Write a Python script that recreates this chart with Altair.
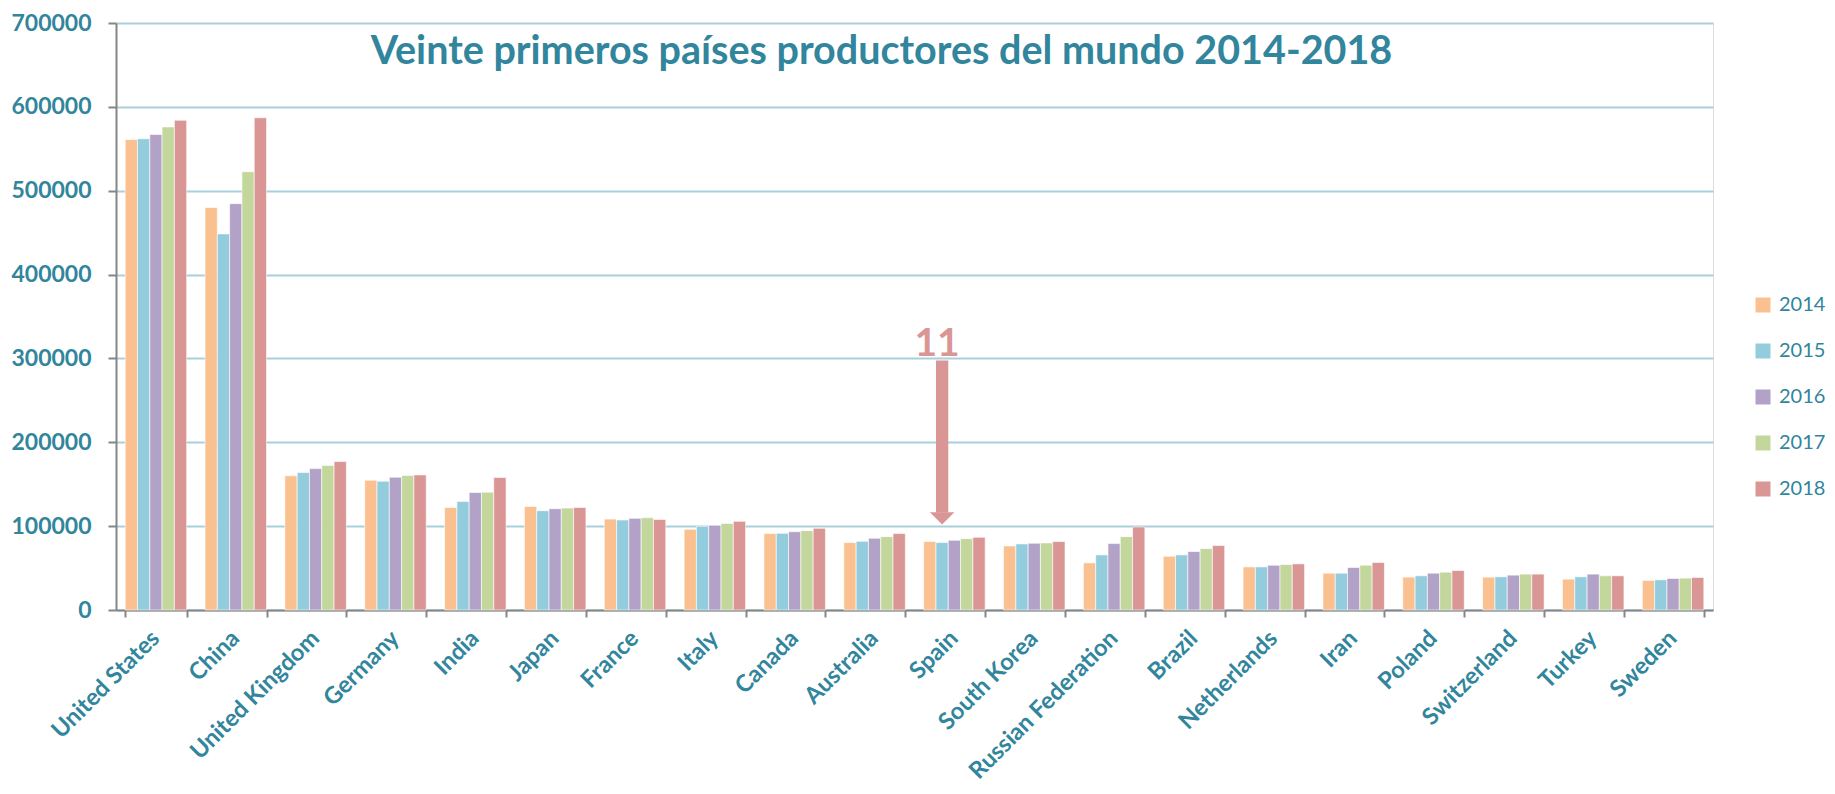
import altair as alt
import pandas as pd

countries = ["United States", "China", "United Kingdom", "Germany", "India", "Japan",
             "France", "Italy", "Canada", "Australia", "Spain", "South Korea",
             "Russian Federation", "Brazil", "Netherlands", "Iran", "Poland",
             "Switzerland", "Turkey", "Sweden"]
years = ["2014", "2015", "2016", "2017", "2018"]

v2014 = [561000, 480000, 160000, 154800, 122300, 123500, 108400, 96200, 91100, 80400,
         81600, 76400, 56200, 64100, 51400, 43900, 39200, 39200, 36800, 35200]
v2015 = [562000, 448500, 163900, 153600, 129500, 118400, 107300, 99800, 91400, 81900,
         80400, 78800, 65700, 65700, 51400, 43900, 40800, 39600, 39600, 36000]
v2016 = [567000, 484600, 168600, 158400, 140100, 120800, 109300, 101000, 93400, 85500,
         83100, 79600, 79200, 69700, 53400, 50700, 43900, 41600, 42800, 37600]
v2017 = [576000, 522600, 172200, 160300, 140500, 121500, 110000, 103300, 94600, 87500,
         85100, 80000, 87500, 73200, 54200, 53400, 45100, 42800, 40800, 38000]
v2018 = [584000, 587000, 177000, 161100, 158000, 122300, 108000, 105700, 97400, 91100,
         86700, 81600, 99000, 76800, 55000, 56600, 47100, 42800, 40800, 38800]

colors = ["#FAC08F", "#93CDDD", "#B3A2C7", "#C3D69B", "#D99694"]
title_text = "Veinte primeros países productores del mundo 2014-2018"

# annotation values
ann_country = "Spain"
ann_year = "2015"
ann_label = "11"
ann_label_y = 303000
shaft_top = 297600
shaft_bottom = 116400
head_y = 109300

TEAL = "#31859C"
GRAY = "#868686"
FONT = "Lato"

rows = []
for yr, vals in zip(years, [v2014, v2015, v2016, v2017, v2018]):
    for c, v in zip(countries, vals):
        rows.append({"country": c, "year": yr, "value": v})
df = pd.DataFrame(rows)

ann = pd.DataFrame([{"country": ann_country, "year": ann_year, "label": ann_label,
                     "ly": ann_label_y, "s1": shaft_bottom, "s2": shaft_top, "hy": head_y}])

x_enc = alt.X("country:N", sort=countries, title=None,
              scale=alt.Scale(paddingInner=0.23, paddingOuter=0.115),
              axis=alt.Axis(labelAngle=-45, labelAlign="right", labelBaseline="top",
                            labelFont=FONT, labelFontSize=23.5, labelFontWeight="bold",
                            labelColor=TEAL, labelPadding=9, labelOffset=-9,
                            labelLimit=0, tickBand="extent",
                            tickSize=7, tickColor=GRAY, tickWidth=2,
                            domainColor=GRAY, domainWidth=2, grid=False,
                            labelOverlap=False))
xo_enc = alt.XOffset("year:N", sort=years)

bars = alt.Chart(df).mark_bar(stroke="white", strokeWidth=1, strokeOpacity=0.6).encode(
    x=x_enc,
    xOffset=xo_enc,
    y=alt.Y("value:Q", title=None,
            scale=alt.Scale(domain=[0, 700000], nice=False),
            axis=alt.Axis(values=[0, 100000, 200000, 300000, 400000, 500000, 600000, 700000],
                          format="d", labelFont=FONT, labelFontSize=23,
                          labelFontWeight="bold", labelColor=TEAL, labelPadding=17,
                          tickSize=8, tickColor=GRAY, tickWidth=2,
                          domainColor=GRAY, domainWidth=2,
                          grid=True, gridColor="#A9CFDB", gridWidth=2)),
    color=alt.Color("year:N", sort=years,
                    scale=alt.Scale(domain=years, range=colors),
                    legend=alt.Legend(title=None, orient="none", legendX=1637, legendY=272,
                                      symbolType="square", symbolSize=225,
                                      symbolStrokeWidth=0, labelFont=FONT,
                                      labelFontSize=20, labelColor=TEAL, labelLimit=0,
                                      rowPadding=26, labelOffset=6, padding=0)),
)

shaft = alt.Chart(ann).mark_bar(color="#D99694").encode(
    x=alt.X("country:N", sort=countries),
    xOffset=alt.XOffset("year:N", sort=years),
    y="s1:Q", y2="s2:Q",
)
head = alt.Chart(ann).mark_point(shape="M-1,-0.5L1,-0.5L0,0.5Z", filled=True, size=600,
                                 color="#D99694", opacity=1).encode(
    x=alt.X("country:N", sort=countries),
    xOffset=alt.XOffset("year:N", sort=years),
    y="hy:Q",
)
label = alt.Chart(ann).mark_text(font=FONT, fontSize=39, fontWeight="bold",
                                 color="#D99694", baseline="alphabetic", dx=-5).encode(
    x=alt.X("country:N", sort=countries),
    xOffset=alt.XOffset("year:N", sort=years),
    y="ly:Q",
    text="label:N",
)

chart = alt.layer(bars, shaft, head, label).properties(
    width=1597, height=587,
    title=alt.Title(title_text, font=FONT, fontSize=39.5, fontWeight="bold", color=TEAL,
                    anchor="middle", offset=0, dx=-33, dy=91, baseline="alphabetic"),
    autosize=alt.AutoSizeParams(type="none"),
    padding={"left": 108, "top": 15, "right": 114, "bottom": 176},
).configure_view(stroke=None).configure(background="white")

chart.save("out.html", embed_options={"renderer": "svg", "actions": False})
